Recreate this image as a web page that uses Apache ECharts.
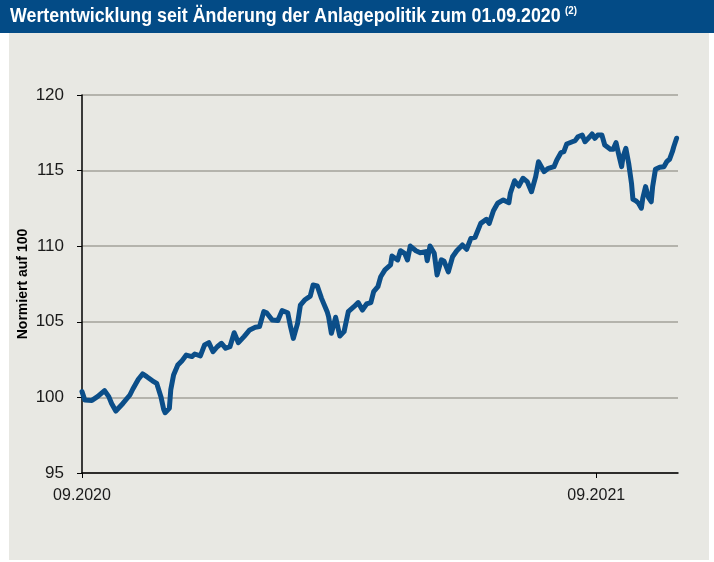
<!DOCTYPE html>
<html>
<head>
<meta charset="utf-8">
<script src="https://cdn.jsdelivr.net/npm/echarts@6/dist/echarts.min.js"></script>
<style>
html,body{margin:0;padding:0;background:#ffffff;}
#chart{width:714px;height:562px;}
</style>
</head>
<body>
<div id="chart"></div>
<script>
// Days since 01.09.2020
var days = [0, 2, 7, 11, 16, 19, 21, 24, 29, 34, 36, 40, 43, 46, 50, 53, 56, 58, 59, 62,
  63, 65, 68, 71, 74, 78, 80, 84, 87, 90, 93, 96, 99, 102, 105, 108, 111, 115, 119, 123,
  126, 129, 131, 135, 139, 142, 146, 148, 150, 153, 155, 158, 162, 164, 167, 170, 174, 175, 177, 180,
  183, 186, 189, 193, 196, 199, 202, 205, 207, 210, 212, 215, 219, 220, 224, 226, 229, 231, 233, 237,
  240, 244, 245, 247, 250, 252, 255, 257, 260, 263, 266, 270, 273, 276, 279, 283, 287, 289, 292, 295,
  299, 303, 304, 307, 310, 313, 316, 319, 322, 324, 328, 331, 335, 337, 340, 342, 344, 348, 350, 352,
  355, 357, 360, 362, 364, 366, 369, 371, 375, 377, 379, 381, 383, 384, 386, 388, 390, 391, 393, 395,
  397, 398, 400, 402, 404, 405, 407, 410, 413, 415, 417, 419, 420, 422];
// Normalised value (start = 100)
var values = [100.38, 99.83, 99.8, 100.05, 100.45, 100.05, 99.6, 99.1, 99.6, 100.16, 100.54, 101.2, 101.55, 101.37, 101.1, 100.93, 100.05, 99.2, 98.99, 99.28,
  100.5, 101.48, 102.14, 102.43, 102.8, 102.7, 102.87, 102.74, 103.47, 103.62, 103.02, 103.35, 103.58, 103.25, 103.35, 104.28, 103.62, 104.02, 104.46, 104.64,
  104.68, 105.67, 105.6, 105.12, 105.08, 105.74, 105.6, 104.68, 103.9, 104.9, 106.11, 106.44, 106.7, 107.43, 107.37, 106.55, 105.67, 105.34, 104.24, 105.3,
  104.06, 104.35, 105.67, 106.0, 106.27, 105.78, 106.18, 106.27, 106.99, 107.32, 107.98, 108.43, 108.76, 109.35, 109.09, 109.7, 109.53, 109.09, 110.01, 109.7,
  109.57, 109.64, 109.04, 110.01, 109.53, 108.1, 109.1, 109.0, 108.3, 109.3, 109.7, 110.08, 109.8, 110.52, 110.59, 111.51, 111.78, 111.51, 112.35, 112.84,
  113.06, 112.88, 113.5, 114.33, 113.98, 114.49, 114.27, 113.6, 114.6, 115.59, 114.93, 115.15, 115.26, 115.7, 116.19, 116.25, 116.76, 116.91, 116.98, 117.24,
  117.35, 116.91, 117.2, 117.42, 117.14, 117.35, 117.35, 116.69, 116.41, 116.41, 116.85, 116.03, 115.26, 115.92, 116.47, 115.48, 114.16, 113.1, 113.01, 112.84,
  112.51, 113.17, 113.94, 113.23, 112.94, 113.94, 115.09, 115.22, 115.26, 115.59, 115.75, 116.25, 116.58, 117.14];
var xTickDays = [0, 365];
var xTickLabels = ['09.2020', '09.2021'];
var titleText = 'Wertentwicklung seit Änderung der Anlagepolitik zum 01.09.2020';
var titleNote = '(2)';
var yAxisName = 'Normiert auf 100';

var seriesData = days.map(function (d, i) { return [d, values[i]]; });
var sans = '"Liberation Sans", Arial, sans-serif';

var chart = echarts.init(document.getElementById('chart'), null, {renderer: 'canvas'});
chart.setOption({
  animation: false,
  backgroundColor: '#ffffff',
  graphic: [
    {type: 'rect', z: -10, shape: {x: 9, y: 33, width: 700, height: 527}, style: {fill: '#e8e8e3'}},
    {type: 'rect', z: -10, shape: {x: 0, y: 0, width: 714, height: 33}, style: {fill: '#034b86'}},
    {type: 'text', x: 10, y: 6, scaleX: 0.89, style: {text: titleText, fill: '#ffffff', font: 'bold 20px ' + sans}},
    {type: 'text', x: 565, y: 5, scaleX: 0.89, style: {text: titleNote, fill: '#ffffff', font: 'bold 11px ' + sans}}
  ],
  grid: {left: 82, right: 36, top: 95, bottom: 89, containLabel: false},
  xAxis: {
    type: 'value', min: 0, max: 423, interval: 365,
    axisLine: {show: true, lineStyle: {color: '#000000', width: 1.5}},
    axisTick: {show: true, length: 5, customValues: xTickDays, lineStyle: {color: '#000000', width: 1}},
    splitLine: {show: false},
    axisLabel: {
      margin: 15, color: '#1a1a1a', fontSize: 16, fontFamily: sans,
      customValues: xTickDays,
      formatter: function (v) { var i = xTickDays.indexOf(v); return i >= 0 ? xTickLabels[i] : ''; }
    },
    axisPointer: {show: false}
  },
  yAxis: {
    type: 'value', min: 95, max: 120, interval: 5,
    name: yAxisName, nameLocation: 'middle', nameGap: 52, nameRotate: 90, nameMoveOverlap: false,
    nameTextStyle: {color: '#000000', fontSize: 14, fontWeight: 'bold', fontFamily: sans},
    axisLine: {show: true, lineStyle: {color: '#000000', width: 1.5}},
    axisTick: {show: true, length: 5, lineStyle: {color: '#000000', width: 1}},
    splitLine: {show: true, lineStyle: {color: '#a3a29a', width: 1.5}},
    axisLabel: {margin: 18, color: '#1a1a1a', fontSize: 17, fontFamily: sans}
  },
  series: [{
    type: 'line', data: seriesData, showSymbol: false, symbol: 'none',
    lineStyle: {color: '#0b4e89', width: 5, join: 'round', cap: 'round'},
    z: 5
  }]
});
</script>
</body>
</html>
